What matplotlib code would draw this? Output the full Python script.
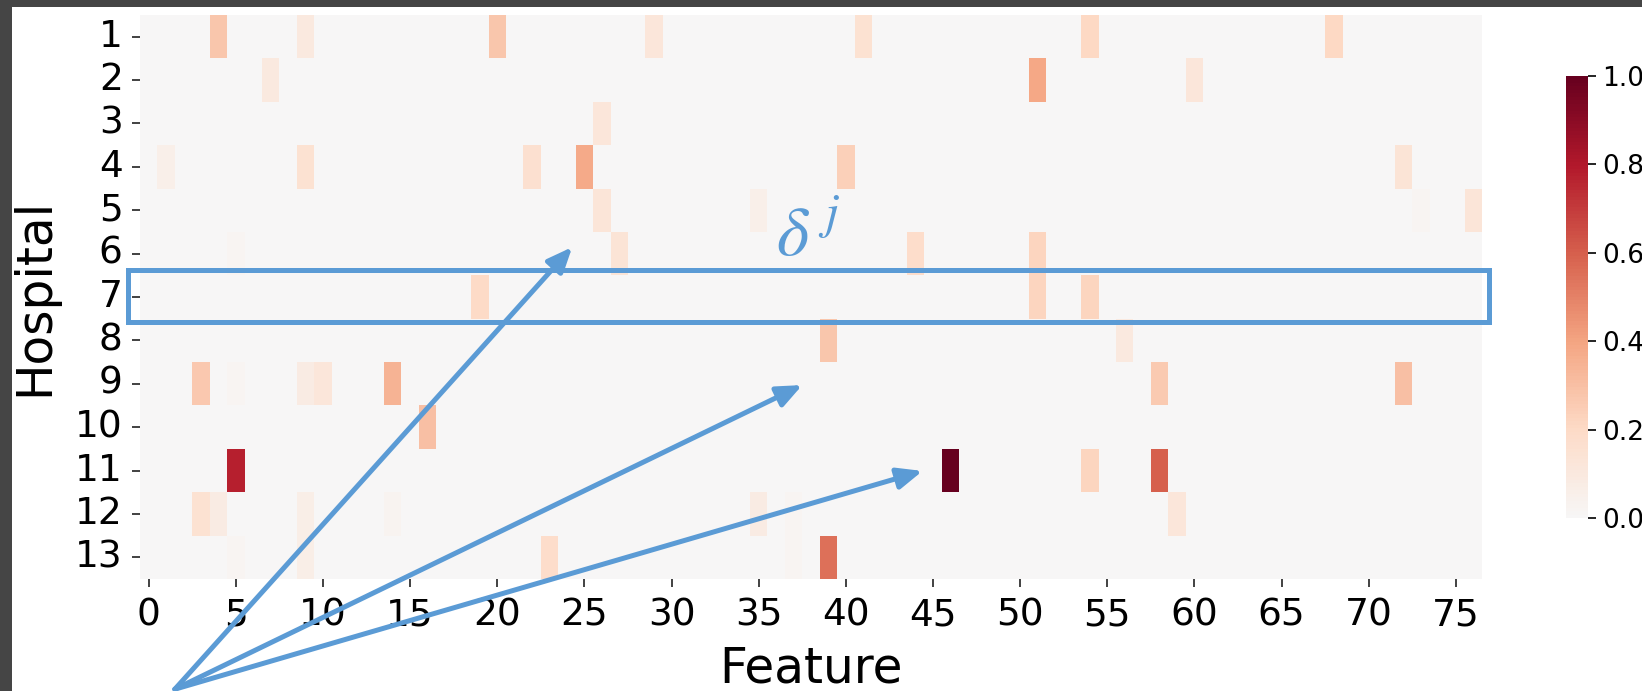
import numpy as np
import pandas as pd
import matplotlib
matplotlib.use("Agg")
import matplotlib.pyplot as plt
import seaborn as sns
from matplotlib.patches import Rectangle

plt.rcParams['font.family'] = ['DejaVu Sans']
plt.rcParams['mathtext.fontset'] = 'stix'

# ---------------- data ----------------
hospitals = list(range(1, 14))
features = list(range(77))

# non-zero cells of the heatmap (hospital, feature, value)
cell_hospital = [1, 1, 1, 1, 1, 1, 1,
                 2, 2, 2,
                 3,
                 4, 4, 4, 4, 4, 4,
                 5, 5, 5, 5,
                 6, 6, 6, 6,
                 7, 7, 7,
                 8, 8,
                 9, 9, 9, 9, 9, 9, 9,
                 10,
                 11, 11, 11, 11,
                 12, 12, 12, 12, 12, 12, 12,
                 13, 13, 13, 13, 13]
cell_feature = [4, 9, 20, 29, 41, 54, 68,
                7, 51, 60,
                26,
                1, 9, 22, 25, 40, 72,
                26, 35, 73, 76,
                5, 27, 44, 51,
                19, 51, 54,
                39, 56,
                3, 5, 9, 10, 14, 58, 72,
                16,
                5, 46, 54, 58,
                3, 4, 9, 14, 35, 37, 59,
                5, 9, 23, 37, 39]
cell_value = [0.28, 0.10, 0.28, 0.12, 0.15, 0.21, 0.21,
              0.10, 0.39, 0.12,
              0.12,
              0.06, 0.15, 0.16, 0.38, 0.24, 0.14,
              0.13, 0.06, 0.02, 0.13,
              0.02, 0.14, 0.18, 0.22,
              0.20, 0.22, 0.22,
              0.28, 0.10,
              0.27, 0.02, 0.08, 0.12, 0.35, 0.26, 0.30,
              0.30,
              0.78, 1.00, 0.22, 0.60,
              0.15, 0.08, 0.07, 0.03, 0.08, 0.02, 0.12,
              0.02, 0.07, 0.18, 0.02, 0.55]

cbar_ticks = [0.0, 0.2, 0.4, 0.6, 0.8, 1.0]

highlight_hospital = 7
arrow_origin = (2.0, 15.54)                       # feature, hospital-row units
arrow_tips = [(24.8, 5.35), (38.0, 8.53), (44.9, 10.51)]
delta_pos = (36.5, 5.53)
sup_pos = (38.9, 4.92)

# ---------------- build table ----------------
mat = np.zeros((len(hospitals), len(features)))
for h, f, v in zip(cell_hospital, cell_feature, cell_value):
    mat[hospitals.index(h), features.index(f)] = v
df = pd.DataFrame(mat, index=hospitals, columns=features)

W, H = 1642, 691
fig = plt.figure(figsize=(W / 100, H / 100), dpi=100)
fig.patch.set_facecolor('#454545')
fig.add_artist(Rectangle((12 / W, 0), 1, 1 - 7 / H, transform=fig.transFigure,
                         facecolor='white', edgecolor='none', zorder=-5))

ax = fig.add_axes([140 / W, 1 - 579 / H, (1482 - 140) / W, (579 - 15) / H])
cax = fig.add_axes([1566 / W, 1 - 518 / H, 22 / W, (518 - 76) / H])

sns.heatmap(df, ax=ax, cbar_ax=cax, cmap='RdBu_r', center=0, vmin=0, vmax=1,
            xticklabels=5, yticklabels=True)

ax.tick_params(axis='both', labelsize=27, length=5.5, width=1.3, color='#333333',
               labelcolor='black')
ax.tick_params(axis='x', pad=7.5, labelrotation=0)
ax.tick_params(axis='y', pad=7, labelrotation=0)
ax.set_xlabel('Feature', fontsize=35, labelpad=8)
ax.set_ylabel('Hospital', fontsize=35, labelpad=12)

cax.set_yticks(cbar_ticks)
cax.set_yticklabels([f'{t:.1f}' for t in cbar_ticks])
cax.tick_params(labelsize=19, length=6, width=1.2, pad=4.5)

blue = '#5B9BD5'
r = hospitals.index(highlight_hospital)
ax.add_patch(Rectangle((-0.69, r - 0.122), len(features) + 0.69 + 0.40, 1.198,
                       fill=False, edgecolor=blue, lw=3.6, clip_on=False, zorder=6))

for tip in arrow_tips:
    ax.annotate('', xy=tip, xytext=arrow_origin, xycoords='data', textcoords='data',
                annotation_clip=False,
                arrowprops=dict(arrowstyle='-|>,head_length=0.75,head_width=0.32',
                                mutation_scale=20, color=blue, lw=3.6,
                                shrinkA=0, shrinkB=0))

ax.text(delta_pos[0], delta_pos[1], r'$\delta$', color=blue, fontsize=50,
        ha='left', va='baseline', zorder=7)
ax.text(sup_pos[0], sup_pos[1], r'$j$', color=blue, fontsize=36,
        ha='left', va='baseline', zorder=7)

fig.savefig('out.png', dpi=100, facecolor=fig.get_facecolor())
